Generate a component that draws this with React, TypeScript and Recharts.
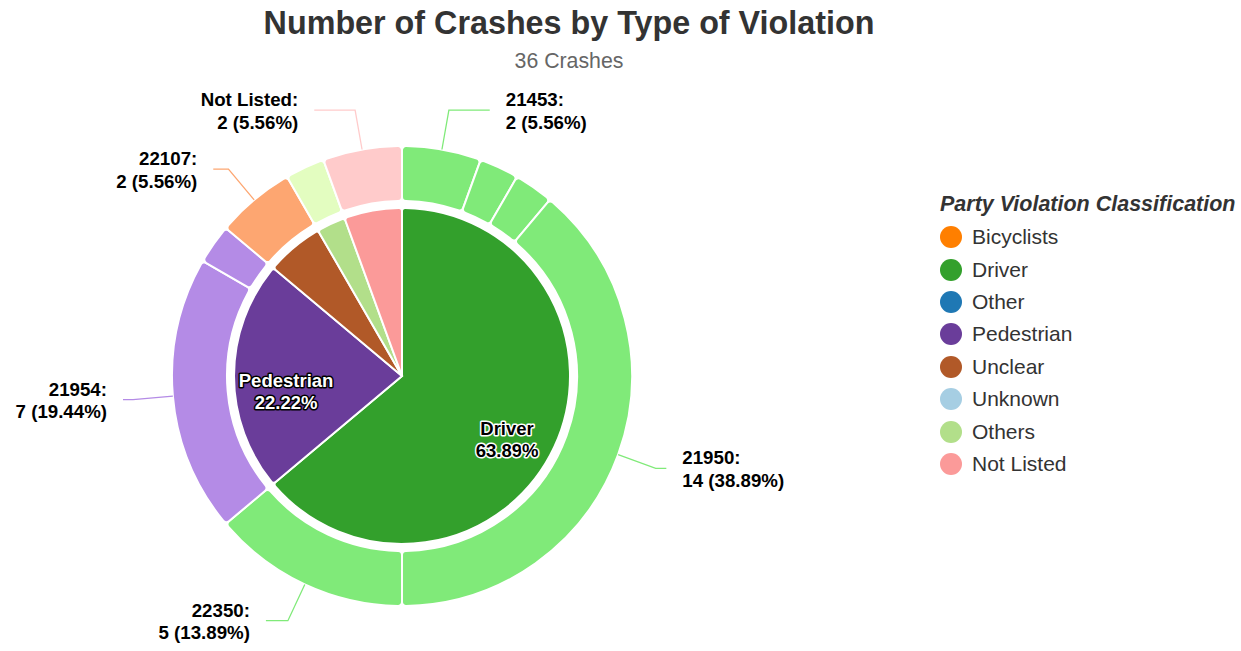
import React from 'react';
import { PieChart, Pie, Cell, Legend } from 'recharts';

const titleText = 'Number of Crashes by Type of Violation';
const subtitleText = '36 Crashes';
const legendTitle = 'Party Violation Classification';

const innerNames = ['Driver', 'Pedestrian', 'Unclear', 'Others', 'Not Listed'];
const innerValues = [23, 8, 2, 1, 2];
const innerColors = ['#33a02c', '#6a3d9a', '#b15928', '#b2df8a', '#fb9a99'];

const outerNames = ['21453', 'Driver other A', 'Driver other B', '21950', '22350', '21954', 'Pedestrian other', '22107', 'Others', 'Not Listed'];
const outerValues = [2, 1, 1, 14, 5, 7, 1, 2, 1, 2];
const outerParents = ['Driver', 'Driver', 'Driver', 'Driver', 'Driver', 'Pedestrian', 'Pedestrian', 'Unclear', 'Others', 'Not Listed'];
const outerParentColors: Record<string, string> = {
  Driver: '#80ea79',
  Pedestrian: '#b48be6',
  Unclear: '#fda671',
  Others: '#e3fdc0',
  'Not Listed': '#ffcbcb',
};

const legendNames = ['Bicyclists', 'Driver', 'Other', 'Pedestrian', 'Unclear', 'Unknown', 'Others', 'Not Listed'];
const legendColors = ['#ff7f00', '#33a02c', '#1f78b4', '#6a3d9a', '#b15928', '#a6cee3', '#b2df8a', '#fb9a99'];

const innerData = innerNames.map((name, i) => ({ name, value: innerValues[i] }));
const outerData = outerNames.map((name, i) => ({ name, value: outerValues[i], parent: outerParents[i] }));
const outerColors = outerParents.map((p) => outerParentColors[p]);

const FONT = '"Liberation Sans", Arial, Helvetica, sans-serif';
const RAD = Math.PI / 180;

function luminance(hex: string) {
  const v = [1, 3, 5]
    .map((i) => parseInt(hex.slice(i, i + 2), 16) / 255)
    .map((c) => (c <= 0.03928 ? c / 12.92 : Math.pow((c + 0.055) / 1.055, 2.4)));
  return 0.2126 * v[0] + 0.7152 * v[1] + 0.0722 * v[2];
}

const renderInnerLabel = (p: any) => {
  const { cx, cy, midAngle, outerRadius, percent, index } = p;
  if (percent < 0.1) return null;
  const r = outerRadius * 0.69;
  const x = cx + r * Math.cos(-midAngle * RAD);
  const y = cy + r * Math.sin(-midAngle * RAD) + 15;
  const L = luminance(innerColors[index]);
  const useBlack = (L + 0.05) / 0.05 > 1.05 / (L + 0.05);
  const fill = useBlack ? '#000' : '#fff';
  const stroke = useBlack ? '#fff' : '#000';
  const common = {
    x,
    textAnchor: 'middle' as const,
    dominantBaseline: 'central' as const,
    fill,
    stroke,
    strokeWidth: 3,
    strokeLinejoin: 'round' as const,
    paintOrder: 'stroke',
    style: { fontFamily: FONT, fontSize: 18.5, fontWeight: 700 },
  };
  return (
    <g key={`il-${index}`}>
      <text {...common} y={y - 11}>{innerNames[index]}</text>
      <text {...common} y={y + 11}>{(percent * 100).toFixed(2)}%</text>
    </g>
  );
};

const renderOuterLabel = (p: any) => {
  const { cx, cy, midAngle, outerRadius, percent, value, index } = p;
  if (percent < 0.05) return null;
  const cos = Math.cos(-midAngle * RAD);
  const sin = Math.sin(-midAngle * RAD);
  const sx = cx + outerRadius * cos;
  const sy = cy + outerRadius * sin;
  const ex = cx + (outerRadius + 40) * cos;
  const ey = cy + (outerRadius + 40) * sin;
  const right = cos >= 0;
  const R = outerRadius + 50;
  const dy = ey - cy;
  const h = Math.sqrt(Math.max(R * R - dy * dy, 0));
  let lx = cx + (right ? h : -h);
  lx = right ? Math.max(lx, ex + 8) : Math.min(lx, ex - 8);
  const tx = lx + (right ? 16 : -16);
  const color = outerColors[index];
  const common = {
    x: tx,
    textAnchor: (right ? 'start' : 'end') as 'start' | 'end',
    dominantBaseline: 'central' as const,
    fill: '#000',
    style: { fontFamily: FONT, fontSize: 18.7, fontWeight: 700 },
  };
  return (
    <g key={`ol-${index}`}>
      <polyline points={`${sx},${sy} ${ex},${ey} ${lx},${ey}`} fill="none" stroke={color} strokeWidth={1.3} />
      <text {...common} y={ey - 10.5}>{outerNames[index]}:</text>
      <text {...common} y={ey + 12}>{value} ({(percent * 100).toFixed(2)}%)</text>
    </g>
  );
};

const LegendContent = () => (
  <div style={{ fontFamily: FONT, color: '#333' }}>
    <div style={{ fontSize: 21.5, fontWeight: 700, fontStyle: 'italic', lineHeight: '28px', whiteSpace: 'nowrap' }}>{legendTitle}</div>
    <div style={{ marginTop: 3 }}>
      {legendNames.map((n, i) => (
        <div key={n} style={{ display: 'flex', alignItems: 'center', height: 32.4 }}>
          <span style={{ display: 'inline-block', width: 22, height: 22, borderRadius: 11, background: legendColors[i] }} />
          <span style={{ fontSize: 21, marginLeft: 10, lineHeight: '24px' }}>{n}</span>
        </div>
      ))}
    </div>
  </div>
);

export default function App() {
  return (
    <div style={{ position: 'absolute', left: 0, top: 0, width: 1241, height: 651, background: '#fff', fontFamily: FONT }}>
      <div style={{ position: 'absolute', left: 0, width: 1138, top: 6, textAlign: 'center', fontSize: 32.3, fontWeight: 700, color: '#333', lineHeight: '34px' }}>
        {titleText}
      </div>
      <div style={{ position: 'absolute', left: 0, width: 1138, top: 49, textAlign: 'center', fontSize: 21.3, color: '#666', lineHeight: '24px' }}>
        {subtitleText}
      </div>
      <PieChart width={1241} height={651} margin={{ top: 0, right: 0, bottom: 0, left: 0 }}>
        <Pie
          data={innerData}
          dataKey="value"
          nameKey="name"
          cx={402}
          cy={376}
          innerRadius={0}
          outerRadius={168}
          startAngle={90}
          endAngle={-270}
          cornerRadius={3}
          stroke="#fff"
          strokeWidth={2}
          label={renderInnerLabel}
          labelLine={false}
          isAnimationActive={false}
        >
          {innerData.map((d, i) => (
            <Cell key={d.name} fill={innerColors[i]} />
          ))}
        </Pie>
        <Pie
          data={outerData}
          dataKey="value"
          nameKey="name"
          cx={402}
          cy={376}
          innerRadius={175}
          outerRadius={230}
          startAngle={90}
          endAngle={-270}
          cornerRadius={4}
          stroke="#fff"
          strokeWidth={2}
          label={renderOuterLabel}
          labelLine={false}
          isAnimationActive={false}
        >
          {outerData.map((d, i) => (
            <Cell key={d.name + i} fill={outerColors[i]} />
          ))}
        </Pie>
        <Legend
          content={<LegendContent />}
          layout="vertical"
          align="right"
          verticalAlign="top"
          wrapperStyle={{ position: 'absolute', left: 940, top: 190, width: 300 }}
        />
      </PieChart>
    </div>
  );
}
